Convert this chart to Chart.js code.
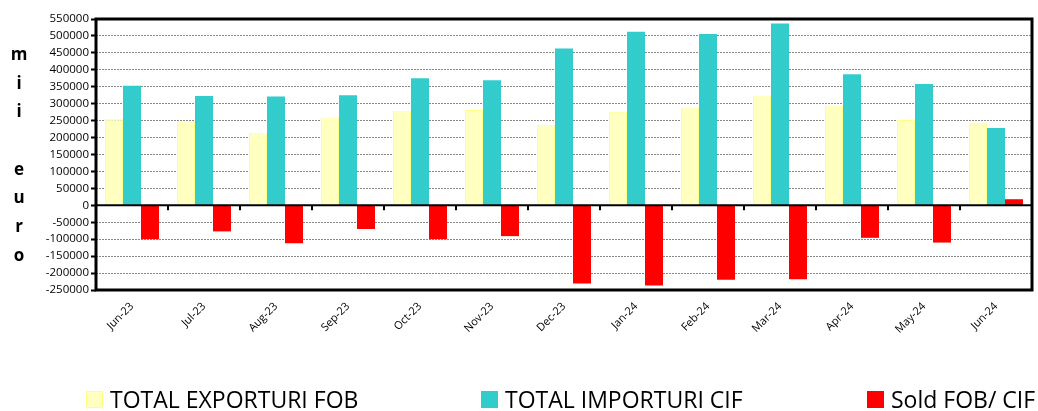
<!DOCTYPE html>
<html>
<head>
<meta charset="utf-8">
<script src="https://cdn.jsdelivr.net/npm/chart.js@4/dist/chart.umd.min.js"></script>
<style>
  html, body { margin: 0; padding: 0; background: #fff; }
  #wrap { position: relative; width: 1038px; height: 411px; }
  #legend { position: absolute; left: 0; top: 0; width: 1038px; height: 411px; pointer-events: none; }
  .lg-item { position: absolute; top: 383px; display: flex; align-items: center; font-family: "Open Sans", sans-serif; font-size: 23px; color: #000; white-space: nowrap; }
  .lg-box { width: 17px; height: 17px; margin-right: 7px; box-sizing: border-box; }
</style>
</head>
<body>
<div id="wrap">
  <canvas id="tradeChart" width="1038" height="411"></canvas>
  <div id="legend"></div>
</div>
<script>
// categories + series (mii euro)
const months = ['Jun-23', 'Jul-23', 'Aug-23', 'Sep-23', 'Oct-23', 'Nov-23', 'Dec-23', 'Jan-24', 'Feb-24', 'Mar-24', 'Apr-24', 'May-24', 'Jun-24'];
const exporturi = [254000, 248000, 213000, 259000, 278000, 281000, 236000, 276000, 289000, 322000, 295000, 252000, 244000];
const importuri = [353000, 323000, 321000, 325000, 375000, 369000, 463000, 512000, 506000, 537000, 387000, 358000, 228000];
const sold = [-100000, -77000, -112000, -70000, -100000, -91000, -231000, -237000, -220000, -218000, -96000, -110000, 18000];
const yTicks = [550000, 500000, 450000, 400000, 350000, 300000, 250000, 200000, 150000, 100000, 50000, 0, -50000, -100000, -150000, -200000, -250000];
const axisTitle = ['m', 'i', 'i', '', 'e', 'u', 'r', 'o'];

// frame, zero line, tick marks and the vertical axis title
const framePlugin = {
    id: 'frame',
    afterDraw(chart) {
        const ctx = chart.ctx;
        const a = chart.chartArea;
        const x = chart.scales.x;
        const y0 = chart.scales.y.getPixelForValue(0);
        ctx.save();
        ctx.strokeStyle = '#000';
        // zero line
        ctx.lineWidth = 2;
        ctx.beginPath();
        ctx.moveTo(a.left, y0);
        ctx.lineTo(a.right, y0);
        ctx.stroke();
        // small ticks between categories
        for (let i = 1; i < months.length; i++) {
            const px = (x.getPixelForValue(i - 1) + x.getPixelForValue(i)) / 2;
            ctx.beginPath();
            ctx.moveTo(px, y0);
            ctx.lineTo(px, y0 + 5);
            ctx.stroke();
        }
        // border
        ctx.lineWidth = 3;
        ctx.strokeRect(a.left, a.top, a.right - a.left, a.bottom - a.top);
        // axis title
        ctx.fillStyle = '#000';
        ctx.font = 'bold 17px "Open Sans", sans-serif';
        ctx.textAlign = 'center';
        ctx.textBaseline = 'middle';
        axisTitle.forEach((ch, i) => ctx.fillText(ch, 19, 55 + i * 28.7));
        ctx.restore();
    }
};

const tradeData = {
    labels: months,
    datasets: [
        {
            label: 'TOTAL EXPORTURI FOB',
            data: exporturi,
            backgroundColor: '#FFFFC0',
            borderColor: '#FFFF88',
            borderWidth: 1
        },
        {
            label: 'TOTAL IMPORTURI CIF',
            data: importuri,
            backgroundColor: '#33CCCC',
            borderColor: '#33CCCC',
            borderWidth: 0
        },
        {
            label: 'Sold FOB/ CIF',
            data: sold,
            backgroundColor: '#FF0000',
            borderColor: '#FF0000',
            borderWidth: 0
        }
    ]
};

const tradeConfig = {
    type: 'bar',
    data: tradeData,
    options: {
        responsive: false,
        animation: false,
        categoryPercentage: 0.75,
        barPercentage: 1,
        layout: {
            padding: { left: 36, top: 19, right: 6, bottom: 61 }
        },
        scales: {
            x: {
                grid: { display: false },
                border: { display: false },
                ticks: {
                    minRotation: 45,
                    maxRotation: 45,
                    color: '#000',
                    padding: 2,
                    font: { family: '"Open Sans", sans-serif', size: 11 }
                },
                afterFit(scale) { scale.height = 60; }
            },
            y: {
                min: -250000,
                max: 550000,
                afterBuildTicks(scale) {
                    scale.ticks = yTicks.map(v => ({ value: v }));
                },
                grid: {
                    color: '#888',
                    lineWidth: 1,
                    tickLength: 5,
                    tickColor: '#000',
                    tickWidth: 2,
                    tickBorderDash: []
                },
                border: { display: false, dash: [2, 1] },
                ticks: {
                    color: '#000',
                    padding: 2,
                    font: { family: '"Open Sans", sans-serif', size: 11.5 },
                    callback: v => String(v)
                },
                afterFit(scale) { scale.width = 60; }
            }
        },
        plugins: {
            legend: { display: false },
            tooltip: { enabled: false }
        }
    },
    plugins: [framePlugin]
};

const tradeChart = new Chart(document.querySelector('#tradeChart'), tradeConfig);

// legend below the chart
const legendLeft = [86, 481, 867];
const legendEl = document.querySelector('#legend');
tradeData.datasets.forEach((ds, i) => {
    const item = document.createElement('div');
    item.className = 'lg-item';
    item.style.left = legendLeft[i] + 'px';
    const box = document.createElement('span');
    box.className = 'lg-box';
    box.style.background = ds.backgroundColor;
    if (i === 0) box.style.border = '1px solid #FFFF88';
    item.appendChild(box);
    item.appendChild(document.createTextNode(ds.label));
    legendEl.appendChild(item);
});
</script>
</body>
</html>
